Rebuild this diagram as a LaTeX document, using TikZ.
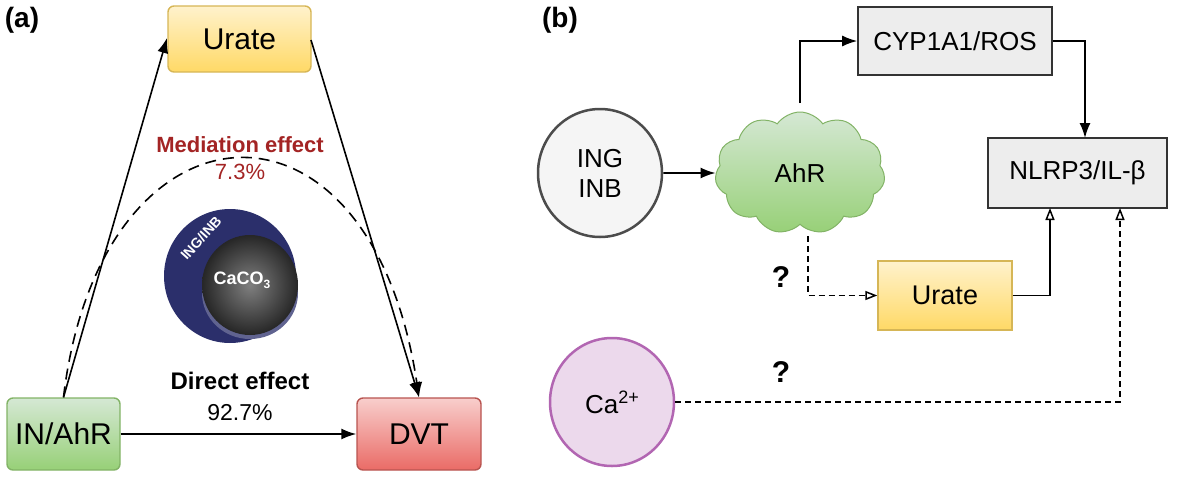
\documentclass[tikz,border=0pt]{standalone}
\usepackage{fontspec}
\setmainfont{Liberation Sans}
\usetikzlibrary{arrows.meta,shapes.symbols,shapes.geometric}
\definecolor{yb}{HTML}{D6B656}\definecolor{yt}{HTML}{FFF2CC}\definecolor{yd}{HTML}{FFD966}
\definecolor{gb}{HTML}{82B366}\definecolor{gt}{HTML}{D5E8D4}\definecolor{gd}{HTML}{97D077}
\definecolor{rb}{HTML}{B85450}\definecolor{rt}{HTML}{F8CECC}\definecolor{rd}{HTML}{EA6B66}
\definecolor{med}{HTML}{A32424}\definecolor{navy}{HTML}{2B2F6B}
\begin{document}
\begin{tikzpicture}[x=1pt,y=-1pt,
 box/.style={draw,line width=1.4pt,rounded corners=6pt,align=center,inner sep=0pt},
 gbox/.style={draw=black!80,line width=1.6pt,fill=black!7,inner sep=0pt,font=\fontsize{26}{29}\selectfont},
 arr/.style={-{Latex[length=15pt,width=11pt]},line width=1.6pt},
 oarr/.style={-{Triangle[open,length=12pt,width=9pt]},line width=1.5pt},
 dsh/.style={dash pattern=on 6pt off 4pt},
 lab/.style={font=\bfseries\fontsize{28}{30}\selectfont}]
\useasboundingbox (0,0) rectangle (1181,477);
% panel a
\node[lab] (la) at (22,20) {(a)};
\node[box,draw=yb,top color=yt,bottom color=yd,minimum width=143,minimum height=66,font=\fontsize{30}{33}\selectfont] (u) at (239.5,39) {Urate};
\node[box,draw=gb,top color=gt,bottom color=gd,minimum width=113,minimum height=72,font=\fontsize{30}{33}\selectfont] (in) at (63.5,434) {IN/AhR};
\node[box,draw=rb,top color=rt,bottom color=rd,minimum width=124,minimum height=72,font=\fontsize{30}{33}\selectfont] (dvt) at (419,434) {DVT};
\coordinate (ul) at (167,38);
\coordinate (ur) at (311,40);
\draw[arr] (in.north) -- (ul);
\draw[arr] (ur) -- (dvt.north);
\draw[arr] (in.east) -- (dvt.west);
\draw[arr,dash pattern=on 11pt off 7pt] (in.north) .. controls (100,90) and (370,70) .. (dvt.north);
\node[font=\bfseries\fontsize{22}{24}\selectfont,text=med] (me) at (240,145) {Mediation effect};
\node[font=\fontsize{22}{24}\selectfont,text=med] (mp) at (240,172) {7.3\%};
\node[font=\bfseries\fontsize{24}{26}\selectfont] (de) at (240,381) {Direct effect};
\node[font=\fontsize{23}{25}\selectfont] (dp) at (240,413) {92.7\%};
% sphere
\fill[navy] (230,276) ellipse (66 and 67);
\fill[navy!75] (250,293) ellipse (48 and 46);
\shade[inner color=black!50,outer color=black!85] (250,285) ellipse (48 and 50);
\node[text=white,font=\bfseries\fontsize{14}{15}\selectfont,rotate=48,inner sep=0pt] (ing) at (201,238) {ING/INB};
\node[text=white,font=\bfseries\fontsize{18}{19}\selectfont] (ca) at (242,280) {CaCO\raisebox{-4pt}{\fontsize{12}{13}\selectfont 3}};
% panel b
\node[lab] (lb) at (560,20) {(b)};
\node[gbox,minimum width=194,minimum height=68] (cyp) at (955,41) {CYP1A1/ROS};
\node[gbox,minimum width=179,minimum height=70] (nl) at (1077.5,173) {NLRP3/IL-β};
\node[draw=black!70,line width=2.5pt,fill=black!4,ellipse,minimum width=124,minimum height=128,align=center,font=\fontsize{26}{30}\selectfont] (ingb) at (600,173) {ING\\INB};
\node[cloud,cloud puffs=11,cloud puff arc=110,aspect=1.3,draw=gb,line width=1pt,top color=gt,bottom color=gd,minimum width=170,minimum height=122,font=\fontsize{26}{29}\selectfont] (ahr) at (800,173) {AhR};
\node[draw=yb,line width=1.4pt,top color=yt,bottom color=yd,minimum width=134,minimum height=69,inner sep=0pt,font=\fontsize{27}{30}\selectfont] (ub) at (945,295.5) {Urate};
\node[draw=violet!60,line width=2.5pt,fill=violet!15,ellipse,minimum width=124,minimum height=128,font=\fontsize{26}{30}\selectfont] (cab) at (612,402) {Ca\raisebox{10pt}{\fontsize{18}{20}\selectfont 2+}};
\coordinate (at) at (800,103);
\coordinate (ab) at (808,236);
\draw[arr] (at) |- (cyp.west);
\draw[arr] (cyp.east) -| (1085,138);
\draw[arr] (ingb.east) -- (ahr.west);
\draw[oarr,dsh] (ab) |- (ub.west);
\draw[oarr] (ub.east) -| (1050,208);
\draw[oarr,dsh] (cab.east) -| (1120,208);
\node[font=\bfseries\fontsize{30}{32}\selectfont] (q1) at (781,277) {?};
\node[font=\bfseries\fontsize{30}{32}\selectfont] (q2) at (781,372) {?};
\end{tikzpicture}
\end{document}
